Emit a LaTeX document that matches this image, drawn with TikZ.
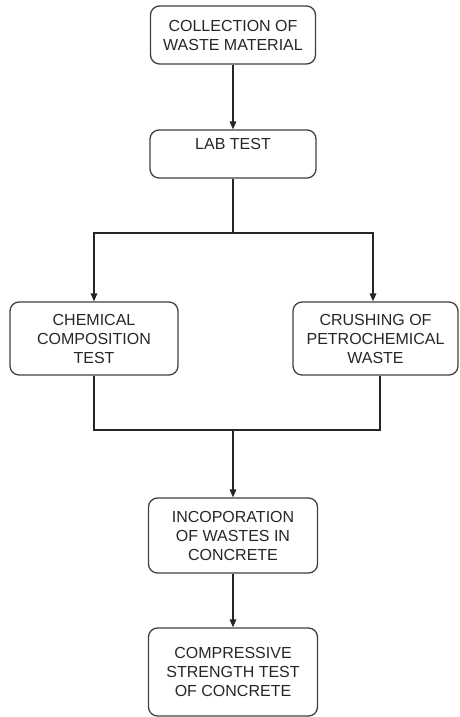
\documentclass[tikz,border=0pt]{standalone}
\usepackage{fontspec}
\setmainfont{Liberation Sans}
\usepackage{xcolor}
\usetikzlibrary{arrows.meta}

\tikzset{
    casella/.style={draw=black!75, line width=1.3pt, rounded corners=9pt,
        align=center, inner sep=0pt, text=black!85,
        font=\fontsize{16}{19}\selectfont},
    freccia/.style={draw=black!85, line width=1.6pt,
        -{Triangle[length=8pt,width=6.5pt]}},
    linea/.style={draw=black!85, line width=1.6pt}
}

\begin{document}
\begin{tikzpicture}[x=1pt, y=1pt]
            \useasboundingbox (0,0) rectangle (460,-717);

            % Caselle
            \foreach \nome/\x/\y/\w/\h/\testo in {
                    raccolta/233/35/165/58/{COLLECTION OF\\WASTE MATERIAL},
                    chimica/94/338.5/168/73/{CHEMICAL\\COMPOSITION\\TEST},
                    frantumazione/375.5/338.5/165/73/{CRUSHING OF\\PETROCHEMICAL\\WASTE},
                    incorporazione/233/535.5/169/75/{INCOPORATION\\OF WASTES IN\\CONCRETE},
                    compressione/233/672/169/88/{COMPRESSIVE\\STRENGTH TEST\\OF CONCRETE}} {
                    \node[casella, minimum width=\w, minimum height=\h] (\nome) at (\x,-\y) {\testo};
                }
            \node[casella, minimum width=166, minimum height=48,
                text height=12pt, text depth=22pt] (lab) at (233,-154) {LAB TEST};

            % Punti di diramazione
            \coordinate (bivio) at (233,-233);
            \coordinate (unione) at (233,-430);

            % Frecce
            \foreach \da/\a in {raccolta/lab, unione/incorporazione, incorporazione/compressione} {
                    \draw[freccia] (\da) -- (\a);
                }
            \draw[linea] (lab) -- (bivio);
            \draw[freccia] (bivio) -| (chimica);
            \draw[freccia] (bivio) -| ([xshift=-2.5pt]frantumazione.north);
            \draw[linea] (chimica) |- (unione);
            \draw[linea] ([xshift=4.5pt]frantumazione.south) |- (unione);
        \end{tikzpicture}
\end{document}
